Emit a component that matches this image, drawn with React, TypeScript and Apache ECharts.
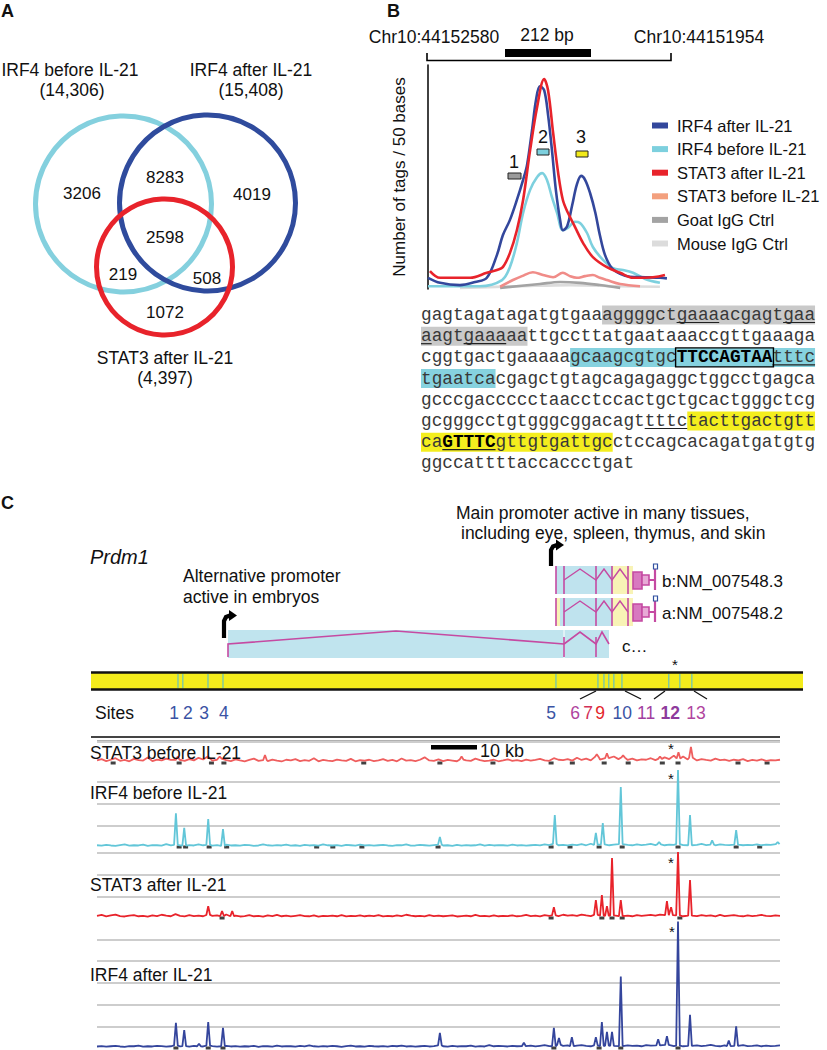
import React, { useEffect, useRef } from 'react';
import * as echarts from 'echarts';

const SANS = '"Liberation Sans", Arial, Helvetica, sans-serif';
const MONO = '"Liberation Mono", "Courier New", monospace';

// ---------------- Panel A : Venn ----------------
const vennSetNames = ['IRF4 before IL-21', 'IRF4 after IL-21', 'STAT3 after IL-21'];
const vennSetTotals = ['(14,306)', '(15,408)', '(4,397)'];
const vennSetColors = ['#84d0de', '#2f4b9d', '#e8232b'];
const vennRegionCounts = [3206, 8283, 4019, 2598, 219, 508, 1072];

// ---------------- Panel B : tag profiles (bp offset, tags / 50 bases) ----------------
const bSeriesNames = ['IRF4 after IL-21', 'IRF4 before IL-21', 'STAT3 after IL-21', 'STAT3 before IL-21', 'Goat IgG Ctrl', 'Mouse IgG Ctrl'];
const bSeriesColors = ['#33479c', '#7dd0de', '#e8232b', '#f3a07e', '#a3a3a3', '#dcdcdc'];
const bIrf4After = [[0, 2.0], [31, 1.1], [82, 0.7], [121, 1.25], [151, 2.0], [177, 6.1], [192, 9.6], [210, 12.3], [228, 15.9], [244, 19.5], [254, 22.1], [267, 28.4], [277, 33.7], [287, 36.2], [298, 35.5], [308, 31.1], [318, 24.8], [328, 17.7], [339, 12.3], [346, 10.5], [357, 11.2], [370, 15.0], [382, 18.7], [393, 20.2], [403, 19.5], [416, 17.1], [429, 13.7], [441, 9.6], [454, 6.1], [472, 3.7], [493, 2.7], [518, 2.2], [557, 2.1], [595, 2.0], [613, 1.9]];
const bIrf4Before = [[0, 0.5], [133, 0.5], [190, 1.6], [210, 3.9], [228, 8.2], [244, 13.6], [262, 17.7], [280, 20.0], [293, 20.7], [305, 19.5], [318, 16.4], [331, 13.6], [346, 10.5], [359, 10.9], [377, 12.0], [390, 11.8], [408, 10.0], [423, 7.5], [449, 5.2], [475, 3.7], [500, 3.4], [526, 2.9], [557, 1.8], [595, 1.1]];
const bStat3After = [[5, 3.2], [31, 2.0], [108, 2.0], [151, 2.9], [177, 3.4], [192, 3.9], [210, 6.4], [228, 10.5], [244, 15.9], [262, 24.8], [280, 32.5], [298, 37.5], [308, 35.5], [321, 27.9], [334, 20.7], [346, 15.9], [359, 13.6], [377, 11.1], [398, 8.2], [423, 5.7], [459, 3.9], [493, 2.9], [526, 2.0], [577, 2.1], [608, 2.5]];
const bStat3Before = [[185, 0.4], [218, 1.6], [241, 2.3], [269, 3.0], [295, 2.5], [321, 2.1], [346, 2.9], [364, 2.3], [382, 2.0], [403, 2.3], [423, 2.5], [441, 2.0], [459, 1.6], [493, 0.9], [544, 0.5]];
const bGoatIgG = [[185, 0.2], [287, 0.9], [339, 1.25], [390, 1.1], [441, 0.7], [493, 0.2]];
const bMouseIgG = [[82, 0.2], [236, 0.5], [364, 0.7], [493, 0.5], [595, 0.4]];
const bMotifLabels = ['1', '2', '3'];
const bMotifColors = ['#9a9a9a', '#7dd0de', '#f2ea1a'];

// ---------------- Panel B : sequence ----------------
const seqLines = [
  'gagtagatagatgtgaaaggggctgaaaacgagtgaa',
  'aagtgaaaaattgccttatgaataaaccgttgaaaga',
  'cggtgactgaaaaagcaagcgtgcTTCCAGTAAtttc',
  'tgaatcacgagctgtagcagagaggctggcctgagca',
  'gcccgaccccctaacctccactgctgcactgggctcg',
  'gcgggcctgtgggcggacagttttctacttgactgtt',
  'caGTTTCgttgtgattgcctccagcacagatgatgtg',
  'ggccattttaccaccctgat',
];
const seqHighlights = [[0, 17, 37, '#c9c9c9'], [1, 0, 10, '#c9c9c9'], [2, 14, 37, '#86d2df'], [3, 0, 7, '#86d2df'], [5, 25, 37, '#f4ee1e'], [6, 0, 18, '#f4ee1e']];
const seqUnderlines = [[0, 24, 28], [0, 34, 37], [1, 0, 1], [1, 4, 8], [2, 33, 37], [5, 21, 25], [6, 2, 7]];
const seqBold = [[2, 24, 33], [6, 2, 7]];
const seqBoxes = [[2, 24, 33]];

// ---------------- Panel C : tracks (kb, grid units) ----------------
const trackNames = ['STAT3 before IL-21', 'IRF4 before IL-21', 'STAT3 after IL-21', 'IRF4 after IL-21'];
const trackColors = ['#ef5e5e', '#62c6d8', '#e8232b', '#34459c'];
const trackMax = [1, 4, 3, 6];
const stat3BeforeNoise = [12,18,9,15,22,10,14,8,19,13,11,25,9,16,12,20,14,28,15,10,18,12,24,16,30,11,15,20,13,9,
  17,12,8,14,20,10,13,9,16,11,7,15,12,18,9,13,10,22,8,14,11,9,16,12,10,19,8,13,11,15,
  9,12,18,10,14,8,21,11,13,9,15,26,12,10,17,9,14,11,8,16,12,10,20,13,9,11,15,8,12,17,
  10,13,9,16,11,14,19,12,10,22,15,13,18,11,24,14,20,12,28,16,33,22,30,18,25,14,20,12,17,15,
  22,13,19,26,18,34,21,30,16,24,12,18,14,11,20,13,16,10,15,12,18,9,14,11,17,10,13,12,15];
const irf4BeforeNoise = [8,6,10,7,5,9,12,6,8,7,11,5,9,8,6,13,7,10,8,6,9,7,12,8,10,6,9,5,11,7,
  8,6,10,9,5,7,12,8,6,9,7,11,6,8,5,10,7,9,6,12,8,7,9,5,10,8,6,11,7,9,
  6,8,10,7,5,9,8,12,6,7,10,8,6,9,11,7,8,5,10,6,9,7,8,12,6,10,7,9,8,6,
  11,7,9,6,8,10,7,12,9,14,8,10,7,11,9,13,8,15,10,9,12,8,11,9,13,10,8,12,9,11,
  14,9,12,8,11,10,13,9,12,8,10,14,9,11,8,12,10,9,15,11,8,10,9,12,8,11,10,9,13];
const stat3AfterNoise = [10,14,8,12,16,9,7,11,13,8,10,6,12,9,15,11,8,18,10,7,13,9,11,8,14,10,12,9,16,8,
  11,7,9,13,8,10,6,12,9,14,8,11,7,10,13,9,8,12,6,10,9,11,8,13,7,10,9,12,8,11,
  9,13,7,10,8,12,9,15,11,8,10,7,13,9,11,8,10,12,7,9,11,8,14,9,10,7,12,8,10,9,
  12,8,10,14,9,11,7,13,10,12,9,15,11,13,10,16,12,9,14,11,13,10,12,15,9,11,8,13,10,12,
  14,11,16,9,13,10,12,8,15,11,9,13,10,12,8,14,9,11,13,10,8,12,9,11,14,10,9,12,10];
const irf4AfterNoise = [7,9,6,8,10,7,5,9,8,11,6,8,7,10,9,6,8,12,7,9,6,10,8,7,11,9,6,8,10,7,
  9,6,8,7,10,5,9,8,6,11,7,9,8,6,10,7,12,8,6,9,7,10,8,5,9,11,7,8,6,10,
  8,7,9,6,10,8,11,7,9,6,8,10,7,9,12,8,6,10,7,9,8,11,6,9,7,13,8,10,9,7,
  10,8,12,9,11,7,10,13,9,8,14,10,12,9,11,13,10,8,12,9,14,11,10,13,9,12,10,11,8,13,
  11,9,12,10,14,9,11,8,13,10,12,9,11,14,10,8,12,9,11,10,13,9,10,12,8,11,9,10,12];
const stat3BeforePeaks = [[17.5, 0.3], [26.6, 0.3], [36.4, 0.37], [79, 0.3], [108.3, 0.4], [110.5, 0.45], [114, 0.35], [122, 0.3], [126, 0.5], [128.7, 0.74]];
const irf4BeforePeaks = [[17.1, 1.55], [18.9, 0.88], [24.1, 1.29], [27.3, 0.83], [74.3, 0.46], [99.2, 1.47], [108.1, 0.65], [109.6, 1.1], [113.5, 2.76], [121.8, 0.23], [125.9, 3.55], [128.5, 1.47], [133.3, 0.3], [138.5, 0.78], [147.5, 0.23]];
const stat3AfterPeaks = [[24.1, 0.55], [27.1, 0.32], [29.3, 0.32], [99.0, 0.5], [108.1, 0.83], [109.4, 1.06], [110.5, 0.55], [111.6, 2.76], [113.5, 0.83], [123.5, 0.78], [124.4, 0.5], [125.9, 3.04], [128.5, 1.75]];
const irf4AfterPeaks = [[17.1, 1.16], [18.9, 0.83], [22.1, 0.2], [24.1, 1.2], [27.3, 0.93], [74.3, 0.7], [92.5, 0.25], [99.0, 0.93], [100.1, 0.46], [102.9, 0.5], [108.1, 0.5], [109.4, 1.2], [110.5, 0.74], [111.6, 0.74], [113.5, 3.29], [121.6, 0.4], [123.5, 0.55], [125.9, 5.83], [128.5, 1.53], [136.9, 0.35], [138.5, 1.0]];
// black peak-call ticks on each track's baseline (kb)
const stat3BeforeCalls = [3.5, 17.8, 24.8, 27.5, 57.8, 74.3, 85.8, 98.4, 103.0, 109.9, 115.1, 122.5, 125.9, 138.9, 145.2];
const irf4BeforeCalls = [17.8, 19.2, 24.3, 28.1, 47.6, 51.1, 57.4, 73.9, 98.4, 102.5, 108.8, 113.8, 125.9, 138.5, 143.6];
const stat3AfterCalls = [27.1, 98.4, 109.4, 111.6, 113.8, 126.3];
const irf4AfterCalls = [17.1, 24.1, 27.3, 99.0, 108.8, 113.5, 125.9];

const siteLineKb = [17.55, 18.6, 24.05, 27.3, 99.45, 108.55, 109.85, 110.9, 112.0, 113.75, 123.9, 126.3, 128.9];
const siteLabels = ['1', '2', '3', '4', '5', '6', '7', '9', '10', '11', '12', '13'];
const siteLabelKb = [16.7, 19.7, 23.2, 27.5, 98.4, 103.6, 106.4, 109.0, 113.8, 119.0, 124.2, 129.8];
const siteLabelColors = ['#3a53a4', '#3a53a4', '#3a53a4', '#3a53a4', '#3a53a4', '#b0449e', '#d23058', '#e3262b', '#3a53a4', '#a13ea0', '#8e3b9c', '#b0449e'];

function buildTrack(noise: number[], peaks: number[][]) {
  const step = 148 / (noise.length - 1);
  const pts: number[][] = [];
  noise.forEach((v, i) => {
    const kb = i * step;
    if (peaks.some((p) => Math.abs(p[0] - kb) < 0.6)) return;
    pts.push([kb, v / 100]);
  });
  peaks.forEach(([kb, h]) => {
    const nb = noise[Math.min(noise.length - 1, Math.round(kb / step))] / 100;
    pts.push([kb - 0.4, nb], [kb, h], [kb + 0.4, nb]);
  });
  pts.sort((a, b) => a[0] - b[0]);
  return pts;
}

const UNIT = 21.7;
const trackBaselines = [763, 847, 918, 1048];

function txt(text: string, x: number, y: number, o: any = {}) {
  return {
    type: 'text', silent: true, z: o.z ?? 20,
    style: {
      text, x, y, fill: o.fill ?? '#111', fontSize: o.size ?? 17.5, fontFamily: o.family ?? SANS,
      fontWeight: o.weight ?? 'normal', fontStyle: o.fstyle ?? 'normal',
      align: o.align ?? 'left', verticalAlign: 'middle', textAlign: o.align ?? 'left', textVerticalAlign: 'middle',
      rich: o.rich,
    },
  };
}
const ln = (x1: number, y1: number, x2: number, y2: number, stroke: string, lineWidth: number, z = 15) => ({ type: 'line', silent: true, z, shape: { x1, y1, x2, y2 }, style: { stroke, lineWidth } });
const rc = (x: number, y: number, w: number, h: number, fill: any, stroke: any = null, lineWidth = 1, z = 5) => ({ type: 'rect', silent: true, z, shape: { x, y, width: w, height: h }, style: { fill, stroke, lineWidth } });
const pl = (points: number[][], stroke: string, lineWidth: number, z = 15) => ({ type: 'polyline', silent: true, z, shape: { points }, style: { stroke, lineWidth, fill: null } });
const pg = (points: number[][], fill: string, z = 15) => ({ type: 'polygon', silent: true, z, shape: { points }, style: { fill } });

function buildOption() {
  const grids: any[] = [{ left: 428, top: 65, width: 244, height: 224 }];
  const xAxes: any[] = [{ type: 'value', gridIndex: 0, min: 0, max: 626, show: false }];
  const yAxes: any[] = [{
    type: 'value', gridIndex: 0, min: 0, max: 40,
    name: 'Number of tags / 50 bases', nameLocation: 'middle', nameGap: 20, nameRotate: 90,
    nameTextStyle: { fontSize: 17, fontFamily: SANS, color: '#111' },
    axisLine: { show: true, lineStyle: { color: '#111', width: 1.6 } }, axisTick: { show: false }, axisLabel: { show: false }, splitLine: { show: false },
  }];
  const bData = [bIrf4After, bIrf4Before, bStat3After, bStat3Before, bGoatIgG, bMouseIgG];
  const drawOrder = [5, 4, 3, 1, 0, 2];
  const series: any[] = drawOrder.map((i) => ({
    name: bSeriesNames[i], type: 'line', xAxisIndex: 0, yAxisIndex: 0, data: bData[i], smooth: 0.35,
    showSymbol: false, silent: true, color: bSeriesColors[i],
    lineStyle: { width: 2.6, color: i === 3 ? '#f08c88' : bSeriesColors[i] },
  }));
  const noises = [stat3BeforeNoise, irf4BeforeNoise, stat3AfterNoise, irf4AfterNoise];
  const peaks = [stat3BeforePeaks, irf4BeforePeaks, stat3AfterPeaks, irf4AfterPeaks];
  const calls = [stat3BeforeCalls, irf4BeforeCalls, stat3AfterCalls, irf4AfterCalls];
  trackNames.forEach((name, k) => {
    const h = trackMax[k] * UNIT;
    grids.push({ left: 97, top: trackBaselines[k] - h, width: 683, height: h });
    xAxes.push({ type: 'value', gridIndex: k + 1, min: 0, max: 148, show: false });
    yAxes.push({
      type: 'value', gridIndex: k + 1, min: 0, max: trackMax[k], interval: 1,
      axisLine: { show: false }, axisTick: { show: false }, axisLabel: { show: false },
      splitLine: { show: true, showMinLine: false, showMaxLine: k === 0 || k === 2, lineStyle: { color: '#bcbcbc', width: 1.5 } },
    });
    series.push({
      name: 'calls_' + name, type: 'scatter', xAxisIndex: k + 1, yAxisIndex: k + 1,
      data: calls[k].map((kb) => [kb, 0]), symbol: 'rect', symbolSize: [5, 3], silent: true,
      itemStyle: { color: '#111' }, z: 2,
    });
    series.push({
      name: 'track_' + name, type: 'line', xAxisIndex: k + 1, yAxisIndex: k + 1, data: buildTrack(noises[k], peaks[k]),
      showSymbol: false, silent: true, clip: false, color: trackColors[k], lineStyle: { width: 1.8, color: trackColors[k] }, z: 3,
    });
  });
  return {
    animation: false,
    backgroundColor: '#ffffff',
    grid: grids, xAxis: xAxes, yAxis: yAxes, series,
    legend: {
      data: bSeriesNames, orient: 'vertical', left: 652, top: 117, padding: 0,
      itemWidth: 16, itemHeight: 6, itemGap: 6.6, icon: 'rect', selectedMode: false,
      textStyle: { fontSize: 16.5, fontFamily: SANS, color: '#111', lineHeight: 16, padding: [0, 0, 0, 4] },
    },
  };
}

function buildGraphics(chart: any) {
  const g: any[] = [];
  // panel letters
  g.push(txt('A', 1, 11, { weight: 'bold', size: 18 }));
  g.push(txt('B', 387, 11, { weight: 'bold', size: 18 }));
  g.push(txt('C', 1, 503, { weight: 'bold', size: 18 }));

  // ---- Venn ----
  const circles = [[123.5, 204, 88], [207.5, 203, 88], [164.5, 267, 68]];
  circles.forEach((c, i) => g.push({ type: 'circle', silent: true, z: 10 + i, shape: { cx: c[0], cy: c[1], r: c[2] }, style: { fill: null, stroke: vennSetColors[i], lineWidth: 5 } }));
  const setLabelPos = [[70, 70], [251, 70], [165, 358]];
  vennSetNames.forEach((n, i) => {
    g.push(txt(n, setLabelPos[i][0], setLabelPos[i][1], { align: 'center' }));
    g.push(txt(vennSetTotals[i], setLabelPos[i][0] + (i === 0 ? 2 : 0), setLabelPos[i][1] + 20, { align: 'center' }));
  });
  const regionPos = [[82, 193], [165, 177], [252, 194], [165, 237], [123, 274], [207, 278], [165, 312]];
  vennRegionCounts.forEach((v, i) => g.push(txt(String(v), regionPos[i][0], regionPos[i][1], { align: 'center', size: 17 })));

  // ---- Panel B header ----
  g.push(txt('Chr10:44152580', 434, 37, { align: 'center' }));
  g.push(txt('212 bp', 547, 35, { align: 'center' }));
  g.push(txt('Chr10:44151954', 699, 37, { align: 'center' }));
  g.push(rc(505, 49, 86, 8, '#000', null, 1, 15));
  g.push(pl([[427, 53], [427, 60.5], [671, 60.5], [671, 53]], '#000', 1.6));
  const motifBoxes = [[508, 173, 13, 6], [537, 149, 12, 6], [576, 151, 12, 6]];
  const motifLabelPos = [[514, 162], [543, 137], [581, 137]];
  bMotifLabels.forEach((l, i) => {
    const b = motifBoxes[i];
    g.push(rc(b[0], b[1], b[2], b[3], bMotifColors[i], '#222', 1, 16));
    g.push(txt(l, motifLabelPos[i][0], motifLabelPos[i][1], { align: 'center', size: 18 }));
  });

  // ---- sequence ----
  const cw = 10.65, sx = 421, fs = 17.75;
  const lineY = (i: number) => 315 + i * 21.2;
  seqHighlights.forEach(([li, s, e, c]: any) => g.push(rc(sx + s * cw, lineY(li) - 9.5, (e - s) * cw, 19, c, null, 1, 5)));
  seqLines.forEach((line, li) => {
    const bolds = seqBold.filter((b) => b[0] === li);
    let str = '';
    let pos = 0;
    bolds.forEach(([, s, e]) => {
      if (s > pos) str += '{n|' + line.slice(pos, s) + '}';
      str += '{b|' + line.slice(s, e) + '}';
      pos = e;
    });
    if (pos < line.length) str += '{n|' + line.slice(pos) + '}';
    g.push(txt(str, sx, lineY(li), {
      family: MONO, size: fs, fill: '#333',
      rich: {
        n: { fontFamily: MONO, fontSize: fs, fill: '#383838', color: '#383838' },
        b: { fontFamily: MONO, fontSize: fs, fontWeight: 'bold', fill: '#000', color: '#000' },
      },
    }));
  });
  seqUnderlines.forEach(([li, s, e]) => g.push(ln(sx + s * cw, lineY(li) + 7.5, sx + e * cw, lineY(li) + 7.5, '#222', 1.2, 21)));
  seqBoxes.forEach(([li, s, e]) => g.push(rc(sx + s * cw - 1, lineY(li) - 9.5, (e - s) * cw + 2, 19, null, '#000', 1.4, 22)));

  // ---- Panel C annotation ----
  g.push(txt('Prdm1', 90, 557, { size: 20, fstyle: 'italic' }));
  g.push(txt('Main promoter active in many tissues,', 456, 513));
  g.push(txt('including eye, spleen, thymus, and skin', 461, 533));
  g.push(txt('Alternative promoter', 183, 576));
  g.push(txt('active in embryos', 183, 597));
  g.push(pl([[224, 638], [224, 621], [226, 617], [230, 615.5]], '#000', 4.2));
  g.push(pg([[229, 610], [237, 615.5], [229, 621]], '#000'));
  g.push(pl([[551, 566], [551, 550], [553, 546.5], [557, 545]], '#000', 4.2));
  g.push(pg([[556, 539.5], [564, 545], [556, 550.5]], '#000'));
  const pink = '#c54aa2';
  g.push(rc(228, 630, 381, 28, '#c0e4ee'));
  g.push(ln(564, 630, 564, 658, '#ffffff', 1, 6));
  g.push(pl([[228, 657], [228, 644], [396, 631], [564, 644]], pink, 1.6));
  g.push(ln(564, 637, 564, 657, pink, 1.6));
  g.push(pl([[564, 644], [580, 632], [596, 644], [602, 632], [609, 644]], pink, 1.6));
  g.push(ln(596, 637, 596, 657, pink, 1.6));
  g.push(txt('c…', 622, 646, { size: 17 }));
  const tx = [[566, 'b:NM_007548.3'], [598, 'a:NM_007548.2']];
  tx.forEach(([ty, label]: any, k) => {
    const h = 28, mid = ty + h / 2;
    g.push(rc(556, ty, 56, h, '#bfe3ee'));
    g.push(rc(612, ty, 21, h, '#f8f3b6'));
    if (k === 1) g.push(rc(556, ty, 4, h, '#f8f3b6', null, 1, 6));
    [556, 564, 596, 612, 628].forEach((x) => g.push(ln(x, ty, x, ty + h, pink, 1.6)));
    g.push(pl([[564, mid], [580, ty + 3], [596, mid], [604, ty + 3], [612, mid], [620, ty + 3], [628, mid]], pink, 1.4));
    g.push(rc(633, ty + 6, 9, h - 11, '#d879c0', pink, 1.6, 16));
    g.push(rc(642, mid - 5, 7, 10, '#e8a9d6', pink, 1.6, 16));
    g.push(ln(649, mid, 655, mid, pink, 2));
    g.push(ln(655, ty + 2, 655, ty + h - 4, pink, 2.2));
    g.push(rc(653.5, ty - 2, 4, 5, '#ffffff', '#3050a0', 1.2, 17));
    g.push(txt(label, 662, ty + 15, { size: 17 }));
  });
  g.push(rc(91, 673, 712, 16, '#f4ec1c', null, 1, 4));
  g.push(ln(91, 672.5, 803, 672.5, '#111', 2.6));
  g.push(ln(91, 689.5, 803, 689.5, '#111', 2.6));
  const px = (kb: number) => chart.convertToPixel({ xAxisIndex: 1 }, kb);
  siteLineKb.forEach((kb) => g.push(ln(px(kb), 674, px(kb), 688, '#66c3bf', 1.2, 8)));
  g.push(txt('*', 675, 664, { size: 15, align: 'center' }));
  [[596, 580], [625, 641], [665, 654], [694, 707]].forEach(([a, b]) => g.push(ln(a, 691, b, 699, '#111', 1.3)));
  g.push(txt('Sites', 95, 713));
  siteLabels.forEach((l, i) => g.push(txt(l, px(siteLabelKb[i]), 713, { align: 'center', fill: siteLabelColors[i], weight: l === '12' ? 'bold' : 'normal' })));
  g.push(ln(91, 737, 780, 737, '#444', 2));
  g.push(ln(97, 740.5, 780, 740.5, '#b0b0b0', 1));
  g.push(rc(431, 745, 46, 4.5, '#000', null, 1, 15));
  g.push(txt('10 kb', 480, 751, { size: 18 }));
  const trackLabelY = [753, 793, 885, 975];
  trackNames.forEach((n, k) => g.push(txt(n, 90, trackLabelY[k])));
  [[671, 748], [671, 778], [671, 862], [672, 931]].forEach(([x, y]) => g.push(txt('*', x, y, { size: 15, align: 'center' })));
  return g;
}

export default function App() {
  const ref = useRef<HTMLDivElement>(null);
  useEffect(() => {
    document.body.style.margin = '0';
    const chart = echarts.init(ref.current!, null, { renderer: 'svg' });
    chart.setOption(buildOption());
    chart.setOption({ graphic: { elements: buildGraphics(chart) } });
    return () => chart.dispose();
  }, []);
  return <div ref={ref} style={{ position: 'absolute', left: 0, top: 0, width: 827, height: 1050, background: '#fff' }} />;
}
